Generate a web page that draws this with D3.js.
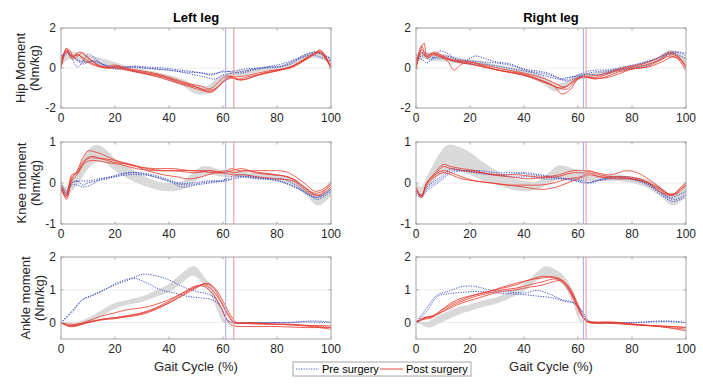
<!DOCTYPE html>
<html>
<head>
<meta charset="utf-8">
<script src="https://cdn.jsdelivr.net/npm/d3@7"></script>
<style>
  body { margin: 0; background: #fff; }
  svg { display: block; font-family: "Liberation Sans", Arial, sans-serif; }
</style>
</head>
<body>
<div id="graph"></div>
<script>
///////////////////////////////////////////////////////////////////////////////
// Data //////////////////////////////////////////////
///////////////////////////////////////////////////////////////////////////////

const xTicks = [0, 20, 40, 60, 80, 100];
const columnTitles = ["Left leg", "Right leg"];
const rowLabels = [
  ["Hip Moment", "(Nm/kg)"],
  ["Knee moment", "(Nm/kg)"],
  ["Ankle moment", "(Nm/kg)"],
];
const yDomains = [[-2, 2], [-1, 1], [-0.5, 2]];
const yTicks = [[-2, 0, 2], [-1, 0, 1], [0, 1, 2]];

// toe-off events (% gait cycle): [pre, post]
const leftEvents = [61, 64];
const rightEvents = [62, 63];

// normative band: [x, lower, upper]
const hipLeftBand = [[0,0.1,0.6],[3,0.45,0.85],[7,0.3,0.7],[12,0.2,0.6],[16,0.05,0.45],[21,-0.1,0.25],[26,-0.2,0.05],[30,-0.3,-0.05],[35,-0.45,-0.2],[40,-0.65,-0.35],[45,-0.9,-0.55],[50,-1.3,-0.85],[54,-1.3,-0.9],[57,-1.05,-0.6],[60,-0.7,-0.35],[65,-0.45,-0.15],[70,-0.3,-0.05],[75,-0.15,0.05],[80,-0.1,0.1],[85,0.05,0.3],[90,0.35,0.65],[94,0.5,0.85],[97,0.4,0.75],[100,0.15,0.45]];
const hipLeftPre = [
  [[0,0.5],[2,0.85],[4,0.5],[6,0.05],[8,0.3],[10,0.7],[12,0.55],[15,0.2],[18,0.0],[22,-0.05],[27,0.1],[32,0.05],[38,0.0],[44,-0.1],[50,-0.2],[55,-0.3],[60,-0.2],[64,-0.15],[68,-0.05],[73,0.0],[78,0.1],[83,0.25],[87,0.45],[91,0.7],[95,0.75],[98,0.6],[100,0.5]],
  [[0,0.4],[2,0.7],[4,0.6],[7,0.35],[10,0.3],[13,0.35],[16,0.15],[20,0.0],[25,0.05],[30,0.0],[36,-0.05],[42,-0.15],[48,-0.3],[53,-0.45],[57,-0.55],[60,-0.35],[64,-0.25],[68,-0.15],[72,-0.05],[77,0.05],[82,0.1],[86,0.35],[90,0.6],[94,0.8],[97,0.65],[100,0.45]],
  [[0,0.6],[2,0.8],[5,0.5],[8,0.2],[11,0.35],[14,0.25],[18,0.1],[23,0.05],[28,0.05],[34,-0.05],[40,-0.1],[46,-0.2],[52,-0.25],[56,-0.35],[60,-0.15],[63,-0.2],[67,-0.25],[71,-0.1],[76,0.0],[81,0.05],[85,0.2],[89,0.5],[93,0.65],[96,0.55],[100,0.35]],
];
const hipLeftPost = [
  [[0,0.0],[2,1.0],[4,0.6],[7,0.8],[10,0.5],[14,0.15],[18,0.0],[20,0.1],[24,-0.05],[30,-0.2],[36,-0.35],[42,-0.6],[48,-0.85],[52,-1.05],[55,-1.2],[58,-0.95],[61,-0.55],[63,-0.4],[65,-0.55],[69,-0.45],[74,-0.3],[80,-0.15],[85,0.05],[90,0.45],[94,0.75],[96,0.9],[98,0.6],[100,0.0]],
  [[0,0.1],[2,0.95],[4,0.45],[6,0.7],[9,0.35],[13,0.1],[17,0.0],[21,0.05],[26,-0.15],[32,-0.3],[38,-0.45],[44,-0.75],[50,-0.95],[54,-1.1],[57,-1.05],[60,-0.7],[63,-0.5],[66,-0.6],[70,-0.5],[75,-0.25],[80,-0.1],[86,0.1],[90,0.4],[94,0.7],[96,0.8],[98,0.5],[100,0.05]],
  [[0,0.0],[1,0.7],[3,0.9],[5,0.5],[8,0.75],[11,0.4],[15,0.05],[20,0.0],[25,-0.1],[30,-0.25],[36,-0.45],[42,-0.7],[48,-0.95],[53,-1.15],[56,-1.2],[59,-0.85],[62,-0.45],[64,-0.5],[67,-0.6],[72,-0.4],[78,-0.2],[84,0.0],[89,0.3],[93,0.65],[96,0.85],[98,0.55],[100,0.0]],
  [[0,0.0],[2,0.8],[4,0.55],[6,0.65],[9,0.45],[12,0.2],[16,0.05],[20,0.15],[24,0.0],[30,-0.15],[36,-0.3],[42,-0.55],[48,-0.8],[52,-0.9],[55,-1.05],[58,-0.75],[61,-0.4],[64,-0.45],[68,-0.4],[73,-0.25],[79,-0.1],[85,0.0],[90,0.35],[94,0.7],[96,0.75],[98,0.45],[100,0.0]],
];

const hipRightBand = [[0,0.25,0.6],[3,0.45,0.8],[7,0.35,0.75],[12,0.3,0.65],[17,0.2,0.5],[22,0.1,0.4],[27,0.0,0.25],[32,-0.15,0.1],[37,-0.3,0.0],[42,-0.5,-0.15],[47,-0.8,-0.4],[51,-1.15,-0.75],[54,-1.1,-0.75],[57,-0.85,-0.55],[60,-0.6,-0.3],[65,-0.5,-0.25],[70,-0.35,-0.1],[75,-0.2,0.05],[80,-0.05,0.15],[85,0.1,0.35],[90,0.35,0.6],[94,0.55,0.9],[97,0.5,0.8],[100,0.2,0.5]];
const hipRightPre = [
  [[0,0.5],[2,0.45],[4,0.25],[6,0.45],[9,0.85],[12,0.7],[15,0.4],[18,0.35],[22,0.6],[26,0.45],[30,0.3],[35,0.2],[40,-0.05],[45,-0.15],[50,-0.3],[54,-0.6],[57,-0.5],[60,-0.35],[64,-0.15],[68,-0.1],[72,-0.1],[77,0.05],[82,0.2],[87,0.35],[91,0.6],[95,0.8],[98,0.75],[100,0.6]],
  [[0,0.6],[2,0.8],[5,0.4],[8,0.55],[11,0.6],[15,0.45],[20,0.35],[25,0.3],[30,0.25],[36,0.1],[42,-0.15],[48,-0.3],[53,-0.5],[56,-0.65],[59,-0.5],[62,-0.35],[66,-0.2],[70,-0.2],[75,-0.05],[80,0.05],[85,0.3],[90,0.5],[94,0.7],[97,0.8],[100,0.7]],
  [[0,0.4],[2,0.6],[5,0.55],[8,0.5],[12,0.45],[16,0.3],[20,0.2],[25,0.2],[30,0.1],[36,-0.05],[42,-0.2],[48,-0.4],[53,-0.55],[57,-0.45],[60,-0.4],[63,-0.3],[67,-0.35],[71,-0.25],[76,-0.1],[81,0.0],[86,0.15],[90,0.4],[94,0.75],[97,0.65],[100,0.45]],
];
const hipRightPost = [
  [[0,0.0],[1,0.6],[3,1.25],[4,0.6],[6,0.75],[9,0.6],[12,0.3],[14,-0.1],[17,0.2],[20,0.3],[25,0.1],[30,-0.1],[36,-0.25],[42,-0.45],[47,-0.7],[51,-0.9],[54,-1.3],[57,-1.1],[60,-0.55],[63,-0.45],[66,-0.55],[70,-0.45],[75,-0.2],[80,-0.05],[85,0.05],[90,0.35],[94,0.6],[97,0.45],[100,-0.15]],
  [[0,0.1],[2,1.1],[4,0.5],[7,0.7],[10,0.55],[14,0.35],[18,0.3],[22,0.15],[27,0.0],[32,-0.15],[38,-0.3],[44,-0.5],[49,-0.75],[53,-1.0],[56,-0.9],[59,-0.55],[62,-0.45],[65,-0.5],[69,-0.4],[74,-0.15],[79,0.0],[85,0.15],[90,0.4],[94,0.7],[97,0.55],[100,0.0]],
  [[0,-0.1],[2,0.9],[4,0.7],[7,0.65],[10,0.5],[15,0.3],[20,0.2],[25,0.05],[30,-0.1],[35,-0.2],[40,-0.3],[45,-0.55],[50,-0.85],[53,-1.0],[56,-1.05],[59,-0.65],[62,-0.4],[65,-0.5],[70,-0.5],[75,-0.3],[80,-0.05],[86,0.05],[91,0.3],[95,0.55],[98,0.4],[100,0.05]],
  [[0,0.0],[2,0.75],[4,0.55],[7,0.8],[10,0.6],[14,0.4],[18,0.35],[22,0.25],[27,0.1],[32,-0.05],[38,-0.2],[43,-0.35],[48,-0.55],[52,-0.8],[55,-0.95],[58,-0.7],[61,-0.45],[64,-0.4],[68,-0.35],[73,-0.15],[78,0.05],[84,0.2],[89,0.45],[94,0.8],[97,0.6],[100,0.1]],
];

const kneeLeftBand = [[0,-0.2,0.0],[2,-0.35,-0.1],[4,-0.2,0.1],[7,0.05,0.45],[10,0.35,0.8],[13,0.5,0.93],[16,0.5,0.85],[20,0.3,0.6],[25,0.1,0.4],[30,-0.05,0.2],[35,-0.15,0.05],[40,-0.2,0.0],[45,-0.15,0.05],[48,-0.05,0.2],[52,0.15,0.4],[55,0.2,0.4],[60,0.15,0.3],[65,0.15,0.3],[70,0.1,0.25],[75,0.1,0.25],[80,0.05,0.2],[85,-0.05,0.15],[90,-0.25,-0.05],[95,-0.55,-0.3],[98,-0.45,-0.2],[100,-0.3,-0.1]];
const kneeLeftPre = [
  [[0,-0.05],[2,-0.3],[4,0.0],[6,0.05],[8,-0.05],[10,0.0],[13,0.05],[17,0.1],[22,0.2],[27,0.25],[32,0.2],[37,0.1],[42,0.0],[47,-0.05],[52,0.0],[57,0.05],[61,0.05],[65,0.15],[70,0.15],[75,0.1],[80,0.05],[85,-0.05],[90,-0.2],[94,-0.35],[97,-0.3],[100,-0.15]],
  [[0,-0.1],[2,-0.25],[4,-0.05],[6,-0.05],[8,-0.1],[11,-0.05],[15,0.1],[20,0.15],[25,0.2],[30,0.2],[35,0.15],[40,0.05],[45,-0.1],[50,-0.05],[55,0.0],[60,0.05],[64,0.1],[68,0.15],[73,0.1],[78,0.1],[83,0.0],[88,-0.15],[92,-0.3],[95,-0.4],[98,-0.3],[100,-0.2]],
  [[0,0.0],[2,-0.2],[4,0.0],[7,0.05],[10,0.05],[14,0.1],[18,0.15],[24,0.25],[29,0.25],[34,0.2],[39,0.1],[44,0.0],[49,0.0],[54,0.05],[59,0.05],[63,0.15],[67,0.2],[72,0.15],[77,0.1],[82,0.1],[87,-0.05],[91,-0.25],[95,-0.35],[98,-0.25],[100,-0.15]],
];
const kneeLeftPost = [
  [[0,-0.1],[2,-0.35],[4,0.1],[6,0.3],[8,0.6],[10,0.78],[13,0.75],[17,0.65],[22,0.5],[28,0.4],[35,0.35],[42,0.35],[48,0.3],[55,0.3],[60,0.25],[63,0.35],[66,0.3],[72,0.3],[78,0.3],[83,0.28],[87,0.15],[91,-0.05],[94,-0.2],[97,-0.15],[100,0.0]],
  [[0,-0.15],[2,-0.3],[4,0.15],[6,0.25],[8,0.45],[10,0.6],[14,0.6],[20,0.5],[26,0.45],[32,0.3],[38,0.2],[43,0.15],[47,0.1],[52,0.15],[57,0.25],[61,0.3],[64,0.25],[68,0.3],[74,0.25],[80,0.2],[86,0.1],[90,-0.1],[94,-0.25],[97,-0.2],[100,-0.05]],
  [[0,-0.05],[2,-0.25],[4,0.2],[6,0.25],[8,0.5],[11,0.65],[15,0.6],[20,0.55],[26,0.45],[32,0.35],[38,0.3],[44,0.3],[50,0.3],[56,0.25],[60,0.25],[63,0.3],[67,0.35],[72,0.25],[78,0.2],[84,0.15],[89,-0.05],[93,-0.25],[96,-0.3],[98,-0.15],[100,0.0]],
  [[0,-0.1],[2,-0.4],[4,0.05],[6,0.2],[9,0.5],[12,0.55],[17,0.5],[22,0.45],[28,0.35],[35,0.3],[42,0.3],[50,0.25],[55,0.3],[60,0.25],[64,0.2],[68,0.2],[73,0.15],[80,0.1],[86,0.05],[90,-0.15],[94,-0.3],[97,-0.25],[100,-0.1]],
];

const kneeRightBand = [[0,-0.3,0.0],[2,-0.35,-0.1],[4,-0.15,0.15],[6,0.0,0.4],[9,0.2,0.75],[12,0.3,0.93],[15,0.3,0.9],[20,0.2,0.75],[25,0.05,0.5],[30,-0.05,0.3],[35,-0.15,0.15],[40,-0.2,0.05],[45,-0.15,0.05],[50,0.0,0.3],[53,0.1,0.43],[57,0.1,0.38],[61,0.05,0.3],[65,0.05,0.25],[70,0.05,0.2],[75,0.05,0.2],[80,0.0,0.15],[85,-0.1,0.1],[90,-0.3,-0.05],[95,-0.55,-0.3],[98,-0.45,-0.2],[100,-0.3,-0.05]];
const kneeRightPre = [
  [[0,-0.2],[2,-0.3],[4,-0.1],[7,0.05],[10,0.2],[13,0.35],[17,0.3],[22,0.25],[28,0.2],[34,0.2],[40,0.25],[46,0.2],[51,0.15],[56,0.1],[60,0.05],[63,0.0],[66,0.05],[70,0.1],[75,0.15],[80,0.1],[85,0.0],[90,-0.2],[94,-0.35],[97,-0.3],[100,-0.2]],
  [[0,-0.25],[2,-0.3],[4,-0.15],[7,0.0],[10,0.15],[13,0.3],[18,0.3],[24,0.25],[30,0.2],[36,0.15],[42,0.15],[48,0.1],[53,0.1],[58,0.1],[62,0.05],[65,0.0],[69,0.1],[74,0.15],[79,0.15],[84,0.05],[89,-0.15],[93,-0.35],[96,-0.4],[98,-0.35],[100,-0.3]],
  [[0,-0.3],[2,-0.35],[4,-0.2],[7,-0.05],[10,0.1],[13,0.25],[18,0.3],[24,0.3],[30,0.25],[37,0.25],[43,0.2],[49,0.15],[54,0.1],[59,0.05],[63,0.0],[67,0.05],[72,0.1],[77,0.1],[82,0.05],[87,-0.1],[91,-0.3],[95,-0.45],[98,-0.4],[100,-0.35]],
];
const kneeRightPost = [
  [[0,-0.1],[2,-0.35],[4,0.0],[7,0.25],[10,0.45],[13,0.4],[17,0.35],[22,0.3],[28,0.2],[35,0.15],[42,0.1],[48,0.15],[53,0.2],[58,0.3],[63,0.3],[67,0.25],[72,0.2],[78,0.3],[82,0.25],[86,0.1],[90,-0.1],[93,-0.25],[96,-0.25],[98,-0.1],[100,0.0]],
  [[0,-0.2],[2,-0.3],[4,0.0],[7,0.2],[10,0.4],[13,0.35],[18,0.3],[24,0.25],[30,0.2],[38,0.2],[45,0.15],[52,0.15],[58,0.25],[62,0.25],[64,0.3],[68,0.2],[73,0.15],[78,0.15],[83,0.1],[88,-0.05],[92,-0.2],[95,-0.3],[98,-0.15],[100,0.0]],
  [[0,-0.15],[2,-0.3],[4,-0.05],[7,0.15],[10,0.25],[13,0.2],[17,0.1],[22,0.05],[28,0.0],[34,-0.05],[40,-0.05],[46,-0.05],[51,0.0],[56,0.1],[61,0.15],[64,0.25],[68,0.15],[74,0.15],[80,0.1],[86,0.0],[90,-0.15],[94,-0.3],[97,-0.2],[100,-0.05]],
  [[0,-0.1],[2,-0.35],[4,0.0],[7,0.2],[10,0.3],[13,0.25],[17,0.15],[22,0.05],[28,0.0],[34,-0.05],[40,-0.1],[45,-0.15],[48,-0.15],[52,-0.1],[56,0.0],[60,0.1],[64,0.2],[68,0.15],[74,0.1],[80,0.1],[86,0.0],[90,-0.2],[94,-0.3],[97,-0.25],[100,-0.05]],
];

const ankleLeftBand = [[0,-0.02,0.02],[3,-0.1,0.0],[6,-0.12,0.02],[10,0.0,0.15],[15,0.2,0.38],[20,0.42,0.6],[25,0.55,0.7],[30,0.63,0.8],[35,0.78,0.98],[40,0.93,1.18],[45,1.22,1.52],[48,1.42,1.7],[50,1.4,1.7],[53,1.15,1.4],[56,0.75,1.1],[58,0.35,0.7],[60,0.0,0.25],[61,-0.02,0.05]];
const ankleLeftPre = [
  [[0,0.0],[4,0.3],[8,0.7],[11,0.8],[15,0.95],[20,1.15],[25,1.3],[30,1.47],[34,1.45],[40,1.3],[45,1.1],[50,0.95],[54,0.88],[57,0.75],[60,0.35],[62,0.05],[65,0.0],[75,0.0],[85,0.0],[93,0.05],[100,0.02]],
  [[0,0.0],[4,0.35],[8,0.7],[12,0.85],[17,1.05],[22,1.25],[27,1.35],[32,1.2],[37,1.0],[42,0.9],[47,0.8],[52,0.75],[56,0.7],[59,0.5],[61,0.15],[63,0.0],[70,0.0],[80,0.0],[90,0.02],[100,0.0]],
];
const ankleLeftPost = [
  [[0,0.0],[3,-0.1],[6,-0.05],[10,0.05],[15,0.2],[20,0.3],[25,0.4],[30,0.45],[35,0.55],[40,0.7],[45,0.9],[50,1.1],[53,1.15],[56,1.0],[59,0.65],[62,0.2],[64,0.0],[67,-0.02],[75,-0.05],[85,-0.05],[92,-0.1],[100,-0.15]],
  [[0,0.0],[3,-0.05],[6,-0.05],[10,0.0],[15,0.1],[20,0.15],[25,0.2],[30,0.28],[35,0.42],[40,0.6],[45,0.82],[50,1.05],[54,1.2],[57,1.05],[60,0.65],[63,0.2],[65,0.0],[70,-0.02],[80,-0.05],[90,-0.1],[100,-0.2]],
  [[0,0.0],[3,-0.1],[6,-0.08],[10,0.0],[15,0.08],[20,0.12],[25,0.18],[30,0.25],[35,0.4],[40,0.6],[45,0.85],[50,1.08],[53,1.18],[56,1.1],[59,0.7],[62,0.25],[64,0.02],[70,0.0],[80,-0.05],[90,-0.08],[100,-0.1]],
  [[0,0.0],[3,-0.12],[6,-0.1],[10,0.02],[15,0.1],[20,0.15],[25,0.22],[30,0.3],[35,0.45],[40,0.65],[45,0.9],[50,1.12],[53,1.1],[56,0.9],[59,0.5],[62,0.0],[64,-0.1],[70,-0.12],[80,-0.12],[90,-0.15],[100,-0.15]],
];

const ankleRightBand = [[0,0.0,0.02],[3,-0.1,0.02],[5,-0.15,0.05],[8,-0.05,0.2],[12,0.1,0.35],[16,0.25,0.48],[20,0.35,0.55],[25,0.48,0.68],[30,0.58,0.78],[35,0.75,0.95],[40,0.95,1.2],[45,1.3,1.55],[48,1.4,1.72],[52,1.3,1.6],[55,1.1,1.4],[58,0.6,1.0],[60,0.15,0.5],[61,0.0,0.12],[62,-0.01,0.02]];
const ankleRightPre = [
  [[0,0.0],[4,0.45],[8,0.85],[12,0.95],[17,1.1],[22,1.1],[27,1.0],[33,0.95],[40,0.9],[45,0.98],[50,0.85],[54,0.7],[58,0.62],[61,0.4],[63,0.1],[66,0.0],[80,0.0],[93,0.05],[100,0.0]],
  [[0,0.0],[4,0.35],[8,0.8],[12,0.88],[17,0.92],[22,0.95],[28,0.92],[34,0.88],[40,0.85],[46,0.8],[51,0.75],[55,0.65],[59,0.58],[62,0.3],[64,0.05],[68,0.0],[80,0.0],[92,0.03],[100,0.0]],
];
const ankleRightPost = [
  [[0,0.0],[3,0.15],[6,0.2],[9,0.35],[13,0.55],[17,0.7],[22,0.85],[27,0.95],[32,1.05],[37,1.15],[42,1.3],[46,1.35],[50,1.38],[53,1.3],[56,1.05],[59,0.6],[61,0.25],[63,0.05],[66,0.02],[73,0.02],[80,-0.05],[90,-0.1],[100,-0.15]],
  [[0,0.0],[3,0.12],[6,0.18],[9,0.3],[13,0.5],[17,0.65],[22,0.8],[27,0.9],[32,1.0],[37,1.05],[42,1.15],[47,1.25],[51,1.33],[54,1.3],[57,1.0],[60,0.5],[62,0.15],[64,0.02],[70,0.0],[80,-0.05],[90,-0.12],[100,-0.2]],
  [[0,0.0],[3,0.15],[6,0.2],[9,0.3],[13,0.45],[17,0.6],[22,0.72],[27,0.85],[32,0.95],[37,1.0],[42,1.08],[47,1.15],[51,1.25],[54,1.28],[57,1.05],[60,0.55],[62,0.15],[64,0.0],[72,-0.02],[80,-0.07],[90,-0.12],[100,-0.25]],
  [[0,0.0],[3,0.1],[6,0.15],[9,0.35],[13,0.6],[17,0.75],[22,0.85],[27,0.95],[32,1.08],[37,1.2],[42,1.3],[46,1.4],[50,1.4],[53,1.35],[56,1.1],[59,0.65],[61,0.3],[63,0.05],[66,0.0],[75,0.0],[85,-0.08],[95,-0.12],[100,-0.15]],
];

const legendLabels = ["Pre surgery", "Post surgery"];

///////////////////////////////////////////////////////////////////////////////
// Layout / styles ////////////////////////////////////////////////////////////
///////////////////////////////////////////////////////////////////////////////

const W = 703, H = 386;
const colLeft = [61, 416];
const plotW = 270;
const rowTop = [28, 142, 257];
const rowBottom = [108, 224, 339];
// y-label offset differs because MATLAB places it past the tick labels
const yLabelOffset = [-36, -35, -31];

const bandColor = "#d9d9d9";
const preColor = "#2c3fc0";
const postColor = "#e8392c";
const boxColor = "#a6a6a6";
const textColor = "#262626";

const panels = [
  { row: 0, col: 0, band: hipLeftBand, pre: hipLeftPre, post: hipLeftPost, events: leftEvents },
  { row: 0, col: 1, band: hipRightBand, pre: hipRightPre, post: hipRightPost, events: rightEvents },
  { row: 1, col: 0, band: kneeLeftBand, pre: kneeLeftPre, post: kneeLeftPost, events: leftEvents },
  { row: 1, col: 1, band: kneeRightBand, pre: kneeRightPre, post: kneeRightPost, events: rightEvents },
  { row: 2, col: 0, band: ankleLeftBand, pre: ankleLeftPre, post: ankleLeftPost, events: leftEvents },
  { row: 2, col: 1, band: ankleRightBand, pre: ankleRightPre, post: ankleRightPost, events: rightEvents },
];

const svg = d3
  .select("#graph")
  .append("svg")
  .attr("width", W)
  .attr("height", H);

svg.append("rect").attr("width", W).attr("height", H).attr("fill", "#fff");

/**
 * Draws one MATLAB-style panel: grid, normative band, pre/post curves,
 * toe-off markers, box with inward ticks.
 */
function drawPanel(p, i) {
  const x0 = colLeft[p.col];
  const y0 = rowTop[p.row];
  const h = rowBottom[p.row] - y0;

  const x = d3.scaleLinear().domain([0, 100]).range([0, plotW]);
  const y = d3.scaleLinear().domain(yDomains[p.row]).range([h, 0]);

  const g = svg.append("g").attr("transform", `translate(${x0},${y0})`);

  g.append("clipPath")
    .attr("id", `clip${i}`)
    .append("rect")
    .attr("width", plotW)
    .attr("height", h);

  const plot = g.append("g").attr("clip-path", `url(#clip${i})`);

  // horizontal grid
  plot
    .selectAll(".grid")
    .data(yTicks[p.row])
    .enter()
    .append("line")
    .attr("x1", 0)
    .attr("x2", plotW)
    .attr("y1", d => y(d))
    .attr("y2", d => y(d))
    .style("stroke", "#ececec")
    .style("stroke-width", 1);

  // normative band
  const area = d3
    .area()
    .x(d => x(d[0]))
    .y0(d => y(d[1]))
    .y1(d => y(d[2]))
    .curve(d3.curveCatmullRom.alpha(0.5));
  plot.append("path").datum(p.band).attr("d", area).style("fill", bandColor);

  const line = d3
    .line()
    .x(d => x(d[0]))
    .y(d => y(d[1]))
    .curve(d3.curveCatmullRom.alpha(0.5));

  plot
    .selectAll(".pre")
    .data(p.pre)
    .enter()
    .append("path")
    .attr("d", line)
    .style("fill", "none")
    .style("stroke", preColor)
    .style("stroke-width", 0.9)
    .style("stroke-dasharray", "1.2,1.3");

  plot
    .selectAll(".post")
    .data(p.post)
    .enter()
    .append("path")
    .attr("d", line)
    .style("fill", "none")
    .style("stroke", postColor)
    .style("stroke-opacity", 0.9)
    .style("stroke-width", 0.9);

  // toe-off markers
  plot
    .selectAll(".event")
    .data(p.events)
    .enter()
    .append("line")
    .attr("x1", d => x(d))
    .attr("x2", d => x(d))
    .attr("y1", 0)
    .attr("y2", h)
    .style("stroke", (d, k) => (k === 0 ? "#a3a9e8" : "#f0948a"))
    .style("stroke-width", 1);

  // box
  g.append("rect")
    .attr("width", plotW)
    .attr("height", h)
    .style("fill", "none")
    .style("stroke", boxColor)
    .style("stroke-width", 1);

  // inward ticks on all four sides
  const tl = 2.5;
  xTicks.forEach(t => {
    g.append("line").attr("x1", x(t)).attr("x2", x(t)).attr("y1", h).attr("y2", h - tl).style("stroke", boxColor);
    g.append("line").attr("x1", x(t)).attr("x2", x(t)).attr("y1", 0).attr("y2", tl).style("stroke", boxColor);
  });
  yTicks[p.row].forEach(t => {
    g.append("line").attr("x1", 0).attr("x2", tl).attr("y1", y(t)).attr("y2", y(t)).style("stroke", boxColor);
    g.append("line").attr("x1", plotW).attr("x2", plotW - tl).attr("y1", y(t)).attr("y2", y(t)).style("stroke", boxColor);
  });

  // tick labels
  g.selectAll(".xt")
    .data(xTicks)
    .enter()
    .append("text")
    .attr("x", d => x(d))
    .attr("y", h + 14)
    .attr("text-anchor", "middle")
    .style("font-size", "12px")
    .style("fill", textColor)
    .text(d => d);

  g.selectAll(".yt")
    .data(yTicks[p.row])
    .enter()
    .append("text")
    .attr("x", -5)
    .attr("y", d => y(d))
    .attr("dy", "0.35em")
    .attr("text-anchor", "end")
    .style("font-size", "12px")
    .style("fill", textColor)
    .text(d => d);

  if (p.row === 0) {
    g.append("text")
      .attr("x", plotW / 2)
      .attr("y", -6)
      .attr("text-anchor", "middle")
      .style("font-size", "13px")
      .style("font-weight", "bold")
      .style("fill", "#000")
      .text(columnTitles[p.col]);
  }

  if (p.row === 2) {
    g.append("text")
      .attr("x", plotW / 2)
      .attr("y", h + 32)
      .attr("text-anchor", "middle")
      .style("font-size", "13px")
      .style("fill", textColor)
      .text("Gait Cycle (%)");
  }

  if (p.col === 0) {
    const lab = g
      .append("text")
      .attr("transform", `translate(${yLabelOffset[p.row]},${h / 2}) rotate(-90)`)
      .attr("text-anchor", "middle")
      .style("font-size", "13px")
      .style("fill", textColor);
    lab.append("tspan").attr("x", 0).attr("dy", "0em").text(rowLabels[p.row][0]);
    lab.append("tspan").attr("x", 0).attr("dy", "1.05em").text(rowLabels[p.row][1]);
  }
}

panels.forEach(drawPanel);

// Legend
const legend = svg.append("g").attr("transform", "translate(293,362)");
legend
  .append("rect")
  .attr("width", 178)
  .attr("height", 14)
  .style("fill", "#fff")
  .style("stroke", boxColor);
legend.append("line").attr("x1", 3).attr("x2", 26).attr("y1", 7).attr("y2", 7)
  .style("stroke", preColor).style("stroke-width", 0.9).style("stroke-dasharray", "1.2,1.3");
legend.append("line").attr("x1", 87).attr("x2", 110).attr("y1", 7).attr("y2", 7)
  .style("stroke", postColor).style("stroke-width", 0.9);
legend.selectAll(".lt")
  .data(legendLabels)
  .enter()
  .append("text")
  .attr("x", (d, k) => (k === 0 ? 29 : 113))
  .attr("y", 7)
  .attr("dy", "0.35em")
  .style("font-size", "11px")
  .style("fill", "#000")
  .text(d => d);
</script>
</body>
</html>
